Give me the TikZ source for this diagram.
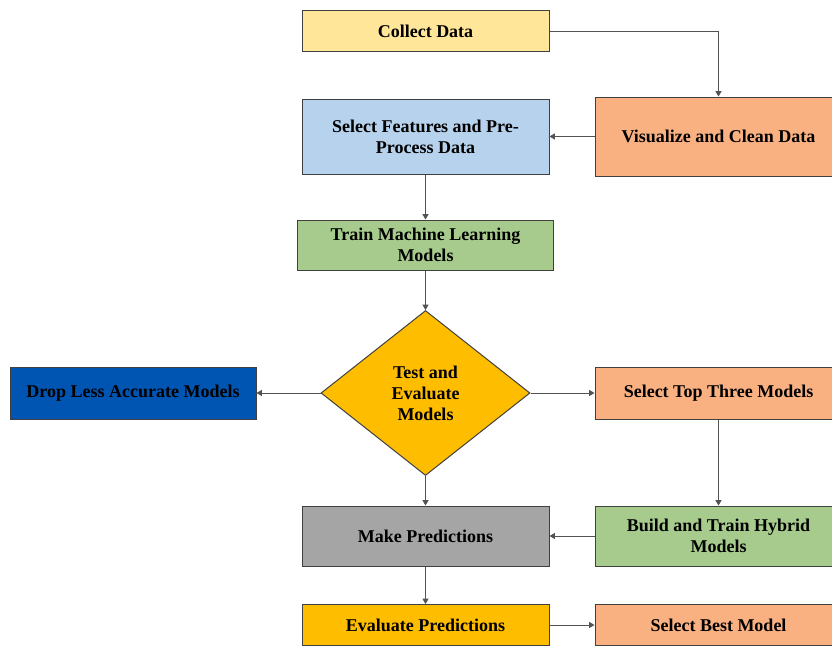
\documentclass[tikz,border=0pt]{standalone}
\usepackage{fontspec}
\setmainfont{Liberation Serif}
\usetikzlibrary{shapes.geometric,arrows.meta}
\definecolor{cYellow}{RGB}{255,230,153}
\definecolor{cBlue}{RGB}{183,210,236}
\definecolor{cSalmon}{RGB}{250,177,130}
\definecolor{cGreen}{RGB}{166,203,140}
\definecolor{cGold}{RGB}{255,189,0}
\definecolor{cGray}{RGB}{165,165,165}
\definecolor{cDark}{RGB}{0,84,178}
\definecolor{cEdge}{RGB}{64,64,64}
\tikzset{
  box/.style={draw=cEdge, line width=0.75pt, rectangle, inner sep=0pt, align=center,
    font=\bfseries\fontsize{13.5}{15.75}\selectfont},
  dia/.style={draw=cEdge, line width=0.75pt, diamond, inner sep=0pt, align=center, fill=cGold,
    font=\bfseries\fontsize{13.5}{15.75}\selectfont},
  conn/.style={draw=cEdge!90, line width=0.6pt, -{Triangle[length=4pt,width=4.5pt]}}
}
\begin{document}
\begin{tikzpicture}[x=0.75pt,y=-0.75pt]
\useasboundingbox (0,0) rectangle (832,647);
\fill[white] (0,0) rectangle (832,647);
\node[box, fill=cYellow, minimum width=247*0.75pt, minimum height=41*0.75pt] (collect) at (425.5,31) {Collect Data};
\node[box, fill=cBlue, minimum width=247*0.75pt, minimum height=75*0.75pt] (feat) at (425.5,136.5) {Select Features and Pre-\\Process Data};
\node[box, fill=cSalmon, minimum width=247*0.75pt, minimum height=79*0.75pt] (vis) at (718.5,136.5) {Visualize and Clean Data};
\node[box, fill=cGreen, minimum width=256*0.75pt, minimum height=50*0.75pt] (train) at (425.5,245) {Train Machine Learning\\Models};
\node[dia, minimum width=209*0.75pt, minimum height=165*0.75pt] (test) at (425.5,393) {Test and\\Evaluate\\Models};
\node[box, fill=cDark, minimum width=246*0.75pt, minimum height=52*0.75pt] (drop) at (133,393) {Drop Less Accurate Models};
\node[box, fill=cSalmon, minimum width=247*0.75pt, minimum height=52*0.75pt] (top) at (718.5,393) {Select Top Three Models};
\node[box, fill=cGray, minimum width=247*0.75pt, minimum height=60*0.75pt] (make) at (425.5,536) {Make Predictions};
\node[box, fill=cGreen, minimum width=247*0.75pt, minimum height=60*0.75pt] (build) at (718.5,536) {Build and Train Hybrid\\Models};
\node[box, fill=cGold, minimum width=247*0.75pt, minimum height=41*0.75pt] (evalp) at (425.5,625) {Evaluate Predictions};
\node[box, fill=cSalmon, minimum width=247*0.75pt, minimum height=41*0.75pt] (best) at (718.5,625) {Select Best Model};
\draw[conn] (collect.east) -| (vis.north);
\draw[conn] (vis.west) -- (feat.east);
\draw[conn] (feat.south) -- (train.north);
\draw[conn] (train.south) -- (test.north);
\draw[conn] (test.west) -- (drop.east);
\draw[conn] (test.east) -- (top.west);
\draw[conn] (test.south) -- (make.north);
\draw[conn] (top.south) -- (build.north);
\draw[conn] (build.west) -- (make.east);
\draw[conn] (make.south) -- (evalp.north);
\draw[conn] (evalp.east) -- (best.west);
\end{tikzpicture}
\end{document}
